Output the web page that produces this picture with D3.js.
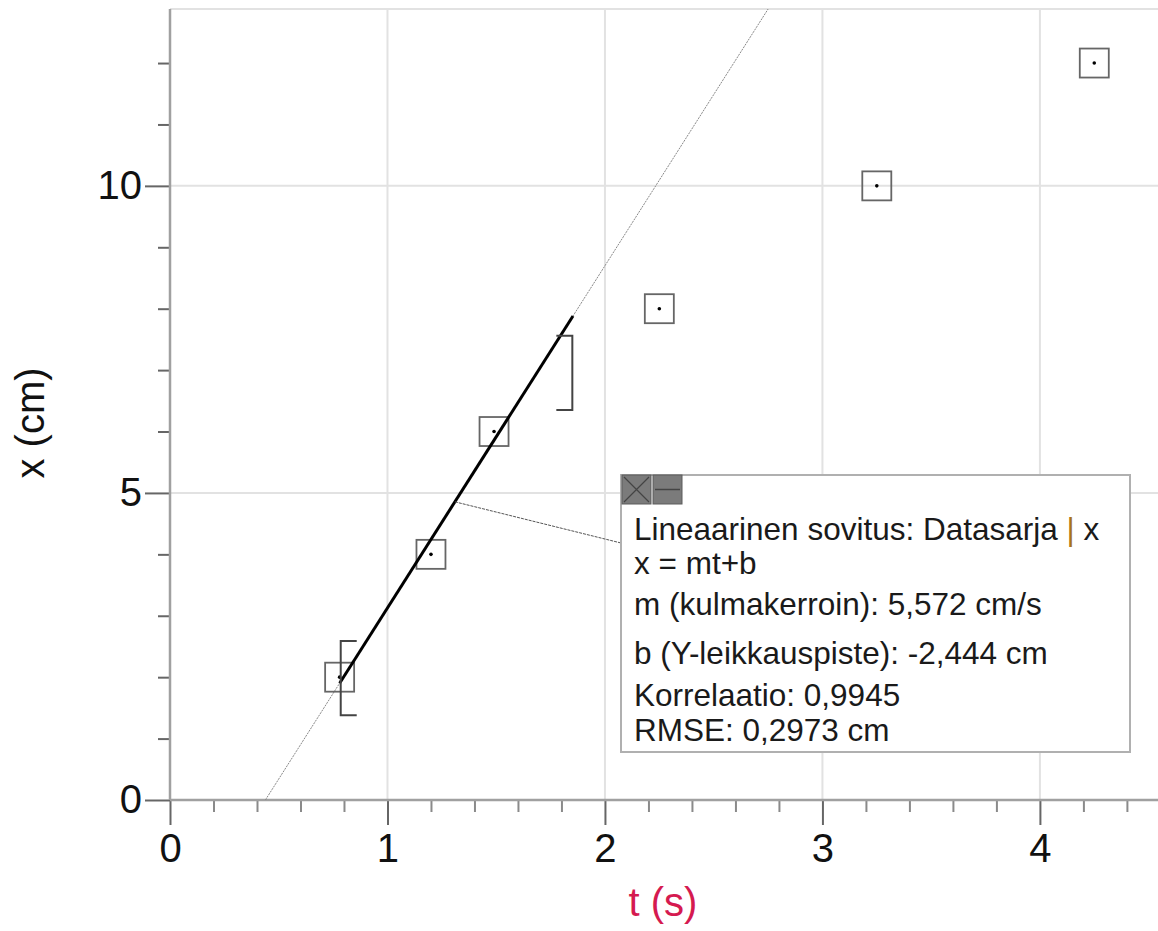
<!DOCTYPE html>
<html>
<head>
<meta charset="utf-8">
<script src="https://cdn.jsdelivr.net/npm/d3@7"></script>
<style>
body { margin:0; background:#fff; }
svg { display:block; font-family: Arial, "Liberation Sans", sans-serif; }
</style>
</head>
<body>
<svg id="chart" width="1158" height="931"></svg>
<script>
// measured data (t in s, x in cm)
var tValues = [0.78, 1.2, 1.49, 2.25, 3.25, 4.25];
var xValues = [2, 4, 6, 8, 10, 12];

// linear fit over the selected range
var fitSlope = 5.572;
var fitIntercept = -2.444;
var fitRange = [0.78, 1.853];

// selection brackets: t position, low and high x
var bracketT = [0.785, 1.85];
var bracketLo = [1.38, 6.35];
var bracketHi = [2.59, 7.56];
var bracketSide = ['left', 'right'];

var xMajor = [0, 1, 2, 3, 4];
var yMajor = [0, 5, 10];

var legendLines = [
  'Lineaarinen sovitus: Datasarja | x',
  'x = mt+b',
  'm (kulmakerroin): 5,572 cm/s',
  'b (Y-leikkauspiste): -2,444 cm',
  'Korrelaatio: 0,9945',
  'RMSE: 0,2973 cm'
];
var leaderT = 1.31;

var svg = d3.select('#chart');
var x = d3.scaleLinear().domain([0, 4.543]).range([170, 1158]);
var y = d3.scaleLinear().domain([0, 12.88]).range([800, 9]);

// grid
var grid = svg.append('g').attr('stroke', '#e2e2e2').attr('stroke-width', 2);
grid.selectAll('.gv').data(xMajor.filter(function(d){ return d > 0; })).enter().append('line')
  .attr('x1', function(d){ return x(d); }).attr('x2', function(d){ return x(d); })
  .attr('y1', y(0)).attr('y2', y.range()[1]);
grid.selectAll('.gh').data(yMajor.filter(function(d){ return d > 0; }).concat([y.domain()[1]])).enter().append('line')
  .attr('x1', x(0)).attr('x2', x.range()[1])
  .attr('y1', function(d){ return y(d); }).attr('y2', function(d){ return y(d); });

// axes: minor ticks, then major ticks with labels
var xMinor = d3.range(0, 4.55, 0.2).filter(function(d){ return Math.abs(d - Math.round(d)) > 0.01; });
var yMinor = d3.range(0, 13, 1).filter(function(d){ return d % 5 !== 0; });

var gxMinor = svg.append('g').attr('transform', 'translate(0,' + y(0) + ')')
  .call(d3.axisBottom(x).tickValues(xMinor).tickSize(12).tickFormat(''));
var gxMajor = svg.append('g').attr('transform', 'translate(0,' + y(0) + ')')
  .call(d3.axisBottom(x).tickValues(xMajor).tickSize(25).tickPadding(9).tickFormat(d3.format('d')));
var gyMinor = svg.append('g').attr('transform', 'translate(' + x(0) + ',0)')
  .call(d3.axisLeft(y).tickValues(yMinor).tickSize(12).tickFormat(''));
var gyMajor = svg.append('g').attr('transform', 'translate(' + x(0) + ',0)')
  .call(d3.axisLeft(y).tickValues(yMajor).tickSize(25).tickPadding(3).tickFormat(d3.format('d')));

[gxMinor, gxMajor, gyMinor, gyMajor].forEach(function(g){
  g.select('.domain').remove();
  g.selectAll('.tick line').attr('stroke', '#666').attr('stroke-width', 2);
  g.selectAll('.tick text').attr('fill', '#111').style('font-size', '40px')
    .style('font-family', 'Arial, "Liberation Sans", sans-serif');
});
gxMinor.selectAll('.tick line').attr('stroke', '#8a8a8a');
svg.append('line').attr('x1', x(0)).attr('x2', x(0)).attr('y1', y.range()[1]).attr('y2', y(0))
  .attr('stroke', '#a0a0a0').attr('stroke-width', 2.5);
svg.append('line').attr('x1', x(0)).attr('x2', x.range()[1]).attr('y1', y(0)).attr('y2', y(0))
  .attr('stroke', '#a0a0a0').attr('stroke-width', 2.5);

// axis titles
svg.append('text').attr('x', 663).attr('y', 916).attr('text-anchor', 'middle')
  .attr('fill', '#d51a50').style('font-size', '40px').text('t (s)');
svg.append('text').attr('transform', 'translate(44,423) rotate(-90)').attr('text-anchor', 'middle')
  .attr('fill', '#111').style('font-size', '40px').text('x (cm)');

// full fit line (thin, dotted)
var tTop = (y.domain()[1] - fitIntercept) / fitSlope;
var tZero = -fitIntercept / fitSlope;
svg.append('line')
  .attr('x1', x(tZero)).attr('y1', y(0))
  .attr('x2', x(tTop)).attr('y2', y(y.domain()[1]))
  .attr('stroke', '#888').attr('stroke-width', 1).attr('stroke-dasharray', '2,1');

// data markers
var pts = tValues.map(function(t, i){ return {t: t, v: xValues[i]}; });
var mk = svg.append('g').selectAll('g').data(pts).enter().append('g')
  .attr('transform', function(d){ return 'translate(' + x(d.t) + ',' + y(d.v) + ')'; });
mk.append('rect').attr('x', -14.5).attr('y', -14.5).attr('width', 29).attr('height', 29)
  .attr('fill', 'none').attr('stroke', '#666').attr('stroke-width', 1.8);
mk.append('circle').attr('r', 1.8).attr('fill', '#000');

// fit segment over selected range
svg.append('line')
  .attr('x1', x(fitRange[0])).attr('y1', y(fitSlope * fitRange[0] + fitIntercept))
  .attr('x2', x(fitRange[1])).attr('y2', y(fitSlope * fitRange[1] + fitIntercept))
  .attr('stroke', '#000').attr('stroke-width', 3);

// selection brackets
bracketT.forEach(function(t, i){
  var dir = bracketSide[i] === 'left' ? 1 : -1;
  var bx = x(t), arm = 16 * dir;
  svg.append('path')
    .attr('d', 'M' + (bx + arm) + ',' + y(bracketHi[i]) + 'H' + bx + 'V' + y(bracketLo[i]) + 'H' + (bx + arm))
    .attr('fill', 'none').attr('stroke', '#444').attr('stroke-width', 2);
});

// annotation box
var box = {left: 621, top: 475, right: 1130, bottom: 752};
svg.append('line')
  .attr('x1', x(leaderT)).attr('y1', y(fitSlope * leaderT + fitIntercept))
  .attr('x2', box.left).attr('y2', 543)
  .attr('stroke', '#555').attr('stroke-width', 1).attr('stroke-dasharray', '3,1');
svg.append('rect').attr('x', box.left).attr('y', box.top)
  .attr('width', box.right - box.left).attr('height', box.bottom - box.top)
  .attr('fill', '#fff').attr('stroke', '#b0b0b0').attr('stroke-width', 2);

var btn = svg.append('g').attr('transform', 'translate(' + (box.left + 1) + ',' + box.top + ')');
btn.append('rect').attr('width', 29).attr('height', 29).attr('fill', '#7b7b7b').attr('stroke', '#5c5c5c');
btn.append('path').attr('d', 'M2,2L27,27M27,2L2,27').attr('stroke', '#444').attr('stroke-width', 1.2);
btn.append('rect').attr('x', 31).attr('width', 29).attr('height', 29).attr('fill', '#7b7b7b').attr('stroke', '#5c5c5c');
btn.append('line').attr('x1', 33).attr('x2', 58).attr('y1', 14.5).attr('y2', 14.5).attr('stroke', '#444').attr('stroke-width', 1.5);

var lineY = [540, 574, 615, 664, 706, 741];
var txt = svg.append('g').style('font-size', '31.5px').attr('fill', '#1a1a1a');
legendLines.forEach(function(s, i){
  var t = txt.append('text').attr('x', 634).attr('y', lineY[i]);
  if (s.indexOf('|') >= 0) {
    var parts = s.split('|');
    t.append('tspan').text(parts[0]);
    t.append('tspan').attr('fill', '#a8741a').text('|');
    t.append('tspan').text(parts[1]);
  } else {
    t.text(s);
  }
});
</script>
</body>
</html>
